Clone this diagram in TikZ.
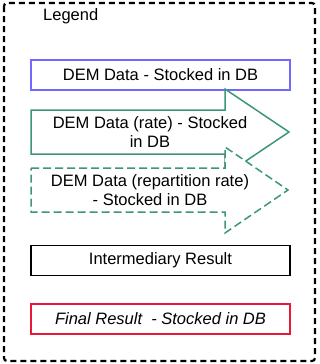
\documentclass[tikz,border=0pt]{standalone}
\usepackage{xcolor}
\usepackage{fontspec}
\setmainfont{Liberation Sans}
\usetikzlibrary{positioning}
\definecolor{dbblue}{RGB}{112,104,255}
\definecolor{rategreen}{RGB}{62,150,122}
\definecolor{finalred}{RGB}{232,24,56}

\begin{document}
\begin{tikzpicture}[
    x=1pt, y=-1pt,
    legendtxt/.style={font=\fontsize{16.5}{19}\selectfont},
    legendbox/.style={
        draw,
        line width=1.5pt,
        minimum width=259pt,
        minimum height=30pt,
        inner sep=0pt,
        legendtxt
    },
    arrowtxt/.style={align=center, inner sep=0pt, legendtxt}
]
\useasboundingbox (0,0) rectangle (320,364);

% dashed frame of the legend
\draw[line width=2.2pt, dash pattern=on 6pt off 4pt, rounded corners=3pt]
    (4,3) rectangle (315,361);
\node[anchor=base west, inner sep=0pt, legendtxt] (legend) at (43,20) {Legend};

% data boxes
\node[legendbox, draw=dbblue] (demdata) at (160.5,75) {DEM Data - Stocked in DB};

% arrow shapes
\draw[rategreen, line width=1.5pt, fill=white]
    (31,110) -- (225,110) -- (225,89) -- (289,132) -- (225,175) -- (225,154) -- (31,154) -- cycle;
\node[arrowtxt] (ratetxt) at (150,132) {DEM Data (rate) - Stocked\\in DB};

\draw[rategreen, line width=1.5pt, fill=white, dash pattern=on 8pt off 4pt]
    (31,168) -- (225,168) -- (225,147) -- (288,190) -- (225,233) -- (225,212) -- (31,212) -- cycle;
\node[arrowtxt] (repartxt) at (150,190) {DEM Data (repartition rate)\\- Stocked in DB};

% results
\node[legendbox] (interres) at (160.5,260.5) {Intermediary Result};
\node[legendbox, draw=finalred, font=\fontsize{16.5}{19}\selectfont\itshape] (finalres) at (160.5,319)
    {Final Result~~- Stocked in DB};
\end{tikzpicture}
\end{document}
